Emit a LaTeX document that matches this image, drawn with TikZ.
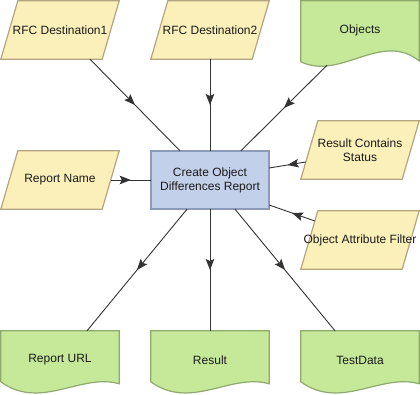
\documentclass[tikz,border=0pt]{standalone}
\usepackage{fontspec}
\setmainfont{Liberation Sans}
\usetikzlibrary{arrows.meta,decorations.markings,backgrounds}
\definecolor{yfill}{HTML}{FBF0BA}
\definecolor{ybord}{HTML}{B3A57F}
\definecolor{gfill}{HTML}{C5E998}
\definecolor{gbord}{HTML}{8FAA6E}
\definecolor{bfill}{HTML}{C3D0E9}
\definecolor{bbord}{HTML}{8C9BB9}
\definecolor{lk}{HTML}{333333}
\definecolor{txt}{HTML}{1A1A1A}
\newcommand\parashape[1]{\draw[para] ([xshift=17pt]#1.north west) -- (#1.north east) -- ([xshift=-17pt]#1.south east) -- (#1.south west) -- cycle;}
\newcommand\docbottom[1]{\draw[docs] (#1.north west) -- (#1.north east) -- ([yshift=-53pt]#1.north east)
  .. controls ([xshift=80pt,yshift=-42pt]#1.north west) and ([xshift=40pt,yshift=-80pt]#1.north west) .. ([yshift=-51pt]#1.north west) -- cycle;}
\begin{document}
\begin{tikzpicture}[x=1pt,y=-1pt,
  every node/.style={font=\fontsize{12}{14}\selectfont, text=txt, align=center, inner sep=0pt},
  box/.style={minimum width=118pt, minimum height=58pt, draw=none},
  flow/.style={draw=lk, line width=0.9pt, postaction={decorate},
    decoration={markings, mark=at position 0.5 with {\arrow{Stealth[length=11pt,width=8.5pt,inset=2pt]}}}},
  para/.style={fill=yfill, draw=ybord, line width=1.2pt, line join=miter},
  docs/.style={fill=gfill, draw=gbord, line width=1.2pt},
  taskshape/.style={fill=bfill, draw=bbord, line width=1.6pt},
]
\useasboundingbox (0,0) rectangle (420,395);

\node[box] (rfc1) at (60,30) {RFC Destination1};
\node[box] (rfc2) at (210,30) {RFC Destination2};
\node[box] (obj) at (360,30) {Objects};
\node[box] (rcs) at (360,150) {Result Contains\\Status};
\node[box] (rname) at (60,180) {Report Name};
\node[box] (task) at (210,180) {Create Object\\Differences Report};
\node[box] (oaf) at (360,240) {Object Attribute Filter};
\node[box] (rurl) at (60,360) {Report URL};
\node[box] (res) at (210,360) {Result};
\node[box] (td) at (360,360) {TestData};

\begin{scope}[on background layer]
  \parashape{rfc1}
  \parashape{rfc2}
  \parashape{rcs}
  \parashape{rname}
  \parashape{oaf}
  \draw[taskshape] (task.north west) rectangle (task.south east);
  \draw[docs] (obj.north west) -- (obj.north east) -- ([yshift=-60pt]obj.north east)
    .. controls ([xshift=80pt,yshift=-30pt]obj.north west) and ([xshift=40pt,yshift=-80pt]obj.north west) .. ([yshift=-61pt]obj.north west) -- cycle;
  \docbottom{rurl}
  \docbottom{res}
  \docbottom{td}
\end{scope}

\draw[flow] ([xshift=30pt]rfc1.south) -- ([xshift=-30pt]task.north);
\draw[flow] (rfc2.south) -- (task.north);
\draw[flow] ([xshift=-33pt,yshift=-6pt]obj.south) -- ([xshift=31pt]task.north);
\draw[flow] ([xshift=5pt,yshift=-12pt]rcs.west) -- ([yshift=12pt]task.east);
\draw[flow] ([xshift=-8.5pt]rname.east) -- (task.west);
\draw[flow] ([xshift=14pt,yshift=19pt]oaf.west) -- ([yshift=-25pt]task.east);
\draw[flow] ([xshift=-23pt]task.south) -- ([xshift=27pt]rurl.north);
\draw[flow] (task.south) -- (res.north);
\draw[flow] ([xshift=25pt]task.south) -- ([xshift=-25pt]td.north);
\end{tikzpicture}
\end{document}
